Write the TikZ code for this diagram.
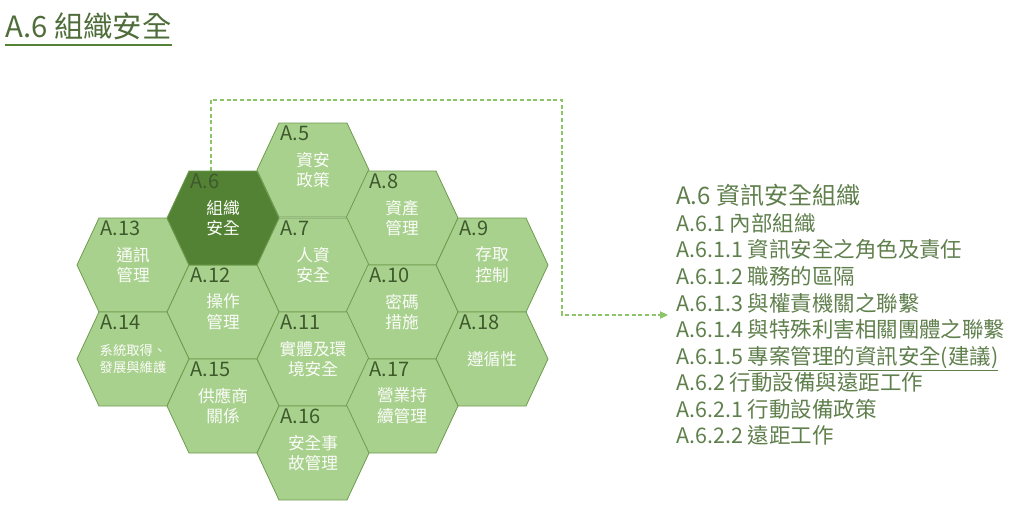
\documentclass[tikz,border=0pt]{standalone}
\usepackage{fontspec}
\setmainfont{Noto Sans CJK TC}
\usetikzlibrary{arrows.meta,positioning}

\definecolor{leafgreen}{HTML}{A9D18E}
\definecolor{edgegreen}{HTML}{6E9C4E}
\definecolor{darkleaf}{HTML}{548235}
\definecolor{numgreen}{HTML}{3E5A2C}
\definecolor{listgreen}{HTML}{5F7F4C}
\definecolor{titlegreen}{HTML}{4F6D3A}
\definecolor{dashgreen}{HTML}{8CC46A}

\begin{document}
\begin{tikzpicture}[
    x=0.75pt, y=-0.75pt,
    hexcell/.style={fill=leafgreen, draw=edgegreen, line width=0.6pt},
    hexdark/.style={fill=darkleaf, draw=edgegreen, line width=0.6pt},
    hexnum/.style={anchor=north west, inner xsep=1pt, inner ysep=2pt, font=\fontsize{15}{15}\selectfont, text=numgreen},
    hextext/.style={align=center, inner sep=0pt, font=\fontsize{12.5}{15.5}\selectfont, text=white!94!leafgreen},
    hexsmall/.style={align=center, inner sep=0pt, font=\fontsize{10}{13}\selectfont, text=white!94!leafgreen},
    arrow/.style={-{Triangle[length=6pt,width=5.5pt]}, dash pattern=on 3pt off 2pt, line width=0.8pt, dashgreen}
]
\useasboundingbox (0,0) rectangle (1024,511);

% title
\node[anchor=west, inner sep=0pt, font=\fontsize{22}{22}\selectfont, text=titlegreen] (title) at (5,26) {A.6 組織安全};
\draw[darkleaf, line width=1.5pt] ([yshift=-4pt]title.south west) -- ([yshift=-4pt]title.south east);

% dashed link from A.6 to its control list
\coordinate (a6top) at (211,171);
\coordinate (turn) at (562,100);

\node[anchor=west, align=left, inner sep=0pt, text=listgreen, font=\fontsize{16.1}{19.9}\selectfont] (list) at (676,315)
  {{\fontsize{18}{19.9}\selectfont A.6 資訊安全組織}\\
   A.6.1 內部組織\\
   A.6.1.1 資訊安全之角色及責任\\
   A.6.1.2 職務的區隔\\
   A.6.1.3 與權責機關之聯繫\\
   A.6.1.4 與特殊利害相關團體之聯繫\\
   A.6.1.5 \underline{專案管理的資訊安全(建議)}\\
   A.6.2 行動設備與遠距工作\\
   A.6.2.1 行動設備政策\\
   A.6.2.2 遠距工作};

\draw[arrow, shorten >=6pt] (a6top) |- (turn) |- (list.west);

% hexagon cells
\foreach \name/\cx/\cy/\num/\txt/\look/\tstyle in {
    a5/313/170/A.5/{資安\\政策}/hexcell/hextext,
    a8/402/218/A.8/{資產\\管理}/hexcell/hextext,
    a13/133/265/A.13/{通訊\\管理}/hexcell/hextext,
    a7/313/265/A.7/{人資\\安全}/hexcell/hextext,
    a9/492/265/A.9/{存取\\控制}/hexcell/hextext,
    a12/223/312/A.12/{操作\\管理}/hexcell/hextext,
    a10/402/312/A.10/{密碼\\措施}/hexcell/hextext,
    a14/133/359/A.14/{系統取得、\\發展與維護}/hexcell/hexsmall,
    a11/313/359/A.11/{實體及環\\境安全}/hexcell/hextext,
    a18/492/359/A.18/{遵循性}/hexcell/hextext,
    a15/223/406/A.15/{供應商\\關係}/hexcell/hextext,
    a17/402/406/A.17/{營業持\\續管理}/hexcell/hextext,
    a16/313/453/A.16/{安全事\\故管理}/hexcell/hextext,
    a6/223/218/A.6/{組織\\安全}/hexdark/hextext}
{
  \path[\look] (\cx-56,\cy) -- (\cx-34,\cy-47) -- (\cx+34,\cy-47) -- (\cx+56,\cy)
    -- (\cx+34,\cy+47) -- (\cx-34,\cy+47) -- cycle;
  \node[hexnum] (\name-num) at (\cx-34,\cy-47) {\num};
  \node[\tstyle] (\name) at (\cx,\cy) {\txt};
}
\end{tikzpicture}
\end{document}
